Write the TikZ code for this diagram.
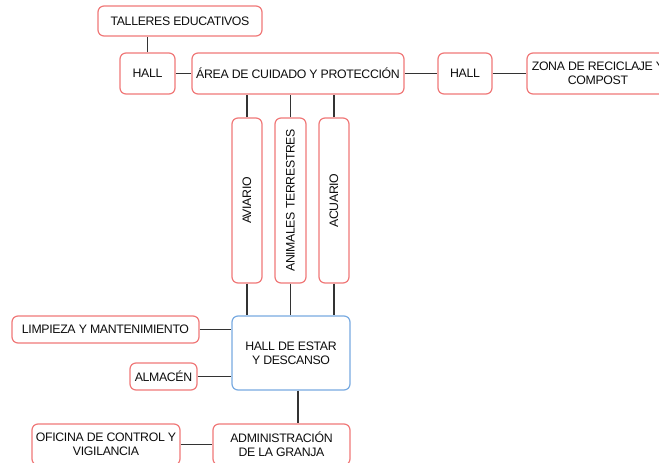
\documentclass[tikz,border=0pt]{standalone}
\usepackage{fontspec}
\setmainfont[LetterSpace=-2.7]{Liberation Sans}
\begin{document}
\begin{tikzpicture}[x=1pt,y=-1pt,
  box/.style={draw=boxred, line width=1.2pt, rounded corners=6pt, fill=white,
    align=center, inner sep=0pt, font=\fontsize{12.3}{13.8}\selectfont, text=black!95},
  bluebox/.style={box, draw=boxblue},
  vbox/.style={box, minimum width=30pt, minimum height=165pt},
  conn/.style={draw=black!80, line width=1.1pt}]
\definecolor{boxred}{RGB}{240,120,120}
\definecolor{boxblue}{RGB}{120,170,225}
\useasboundingbox (0,0) rectangle (659,463);
\clip (0,0) rectangle (659,463);

\node[box, minimum width=164pt, minimum height=30pt] (talleres) at (180,21) {TALLERES EDUCATIVOS};
\node[box, minimum width=55pt, minimum height=41pt] (hallL) at (147.5,73.5) {HALL};
\node[box, minimum width=212pt, minimum height=41pt] (area) at (298,73.5) {ÁREA DE CUIDADO Y PROTECCIÓN};
\node[box, minimum width=54pt, minimum height=41pt] (hallR) at (465,73.5) {HALL};
\node[box, minimum width=142pt, minimum height=41pt] (zona) at (598,73.5) {ZONA DE RECICLAJE Y\\COMPOST};

\node[vbox] (aviario) at (247,200.5) {\rotatebox{90}{AVIARIO}};
\node[vbox, minimum width=31pt] (animales) at (290.5,200.5) {\rotatebox{90}{ANIMALES TERRESTRES}};
\node[vbox] (acuario) at (334,200.5) {\rotatebox{90}{ACUARIO}};

\node[bluebox, minimum width=118pt, minimum height=74pt] (hallE) at (291,353) {HALL DE ESTAR\\Y DESCANSO};
\node[box, minimum width=187pt, minimum height=27pt] (limpieza) at (105.5,329.5) {LIMPIEZA Y MANTENIMIENTO};
\node[box, minimum width=67pt, minimum height=27pt] (almacen) at (163.5,376.5) {ALMACÉN};

\node[box, minimum width=137pt, minimum height=41pt] (admin) at (281.5,444.5) {ADMINISTRACIÓN\\DE LA GRANJA};
\node[box, minimum width=148pt, minimum height=41pt] (oficina) at (106,444.5) {OFICINA DE CONTROL Y\\VIGILANCIA};

\draw[conn] (hallL.north) -- (hallL.north |- talleres.south);
\draw[conn] (hallL.east) -- (area.west);
\draw[conn] (area.east) -- (hallR.west);
\draw[conn] (hallR.east) -- (zona.west);
\foreach \n in {aviario,animales,acuario}{
  \draw[conn] (\n.north) -- (\n.north |- area.south);
  \draw[conn] (\n.south) -- (\n.south |- hallE.north);
}
\draw[conn] (limpieza.east) -- (limpieza.east -| hallE.west);
\draw[conn] (almacen.east) -- (almacen.east -| hallE.west);
\draw[conn] ([xshift=7pt]hallE.south) -- ([xshift=7pt]hallE.south |- admin.north);
\draw[conn] (oficina.east) -- (admin.west);
\end{tikzpicture}
\end{document}
